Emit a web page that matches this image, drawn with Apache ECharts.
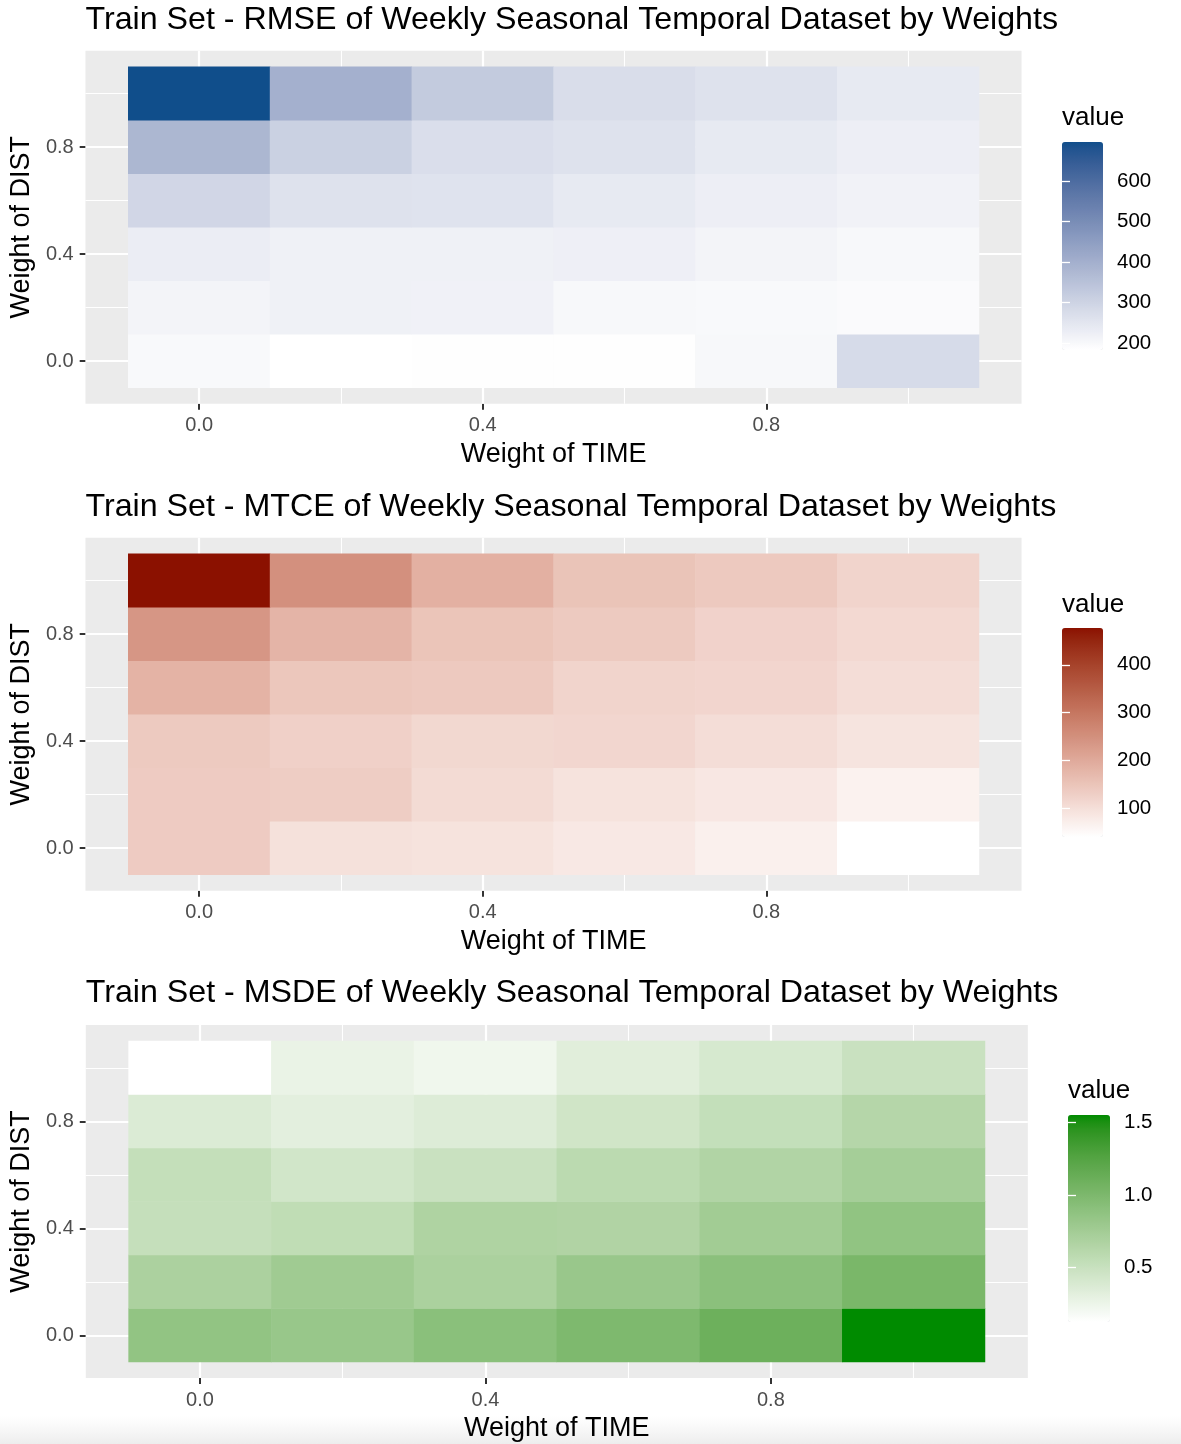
<!DOCTYPE html>
<html>
<head>
<meta charset="utf-8">
<style>
  html, body { margin: 0; padding: 0; background: #ffffff; }
  #chart { width: 1181px; height: 1444px; }
</style>
<script src="https://cdn.jsdelivr.net/npm/echarts@6/dist/echarts.min.js"></script>
</head>
<body>
<div id="chart"></div>
<script>
// Weight grid shared by all three heatmaps
const timeWeights = ['0.0', '0.2', '0.4', '0.6', '0.8', '1.0'];
const distWeights = ['0.0', '0.2', '0.4', '0.6', '0.8', '1.0'];

// Rows: DIST weight 0.0 -> 1.0 ; columns: TIME weight 0.0 -> 1.0
const rmseValues = [
  [200, 183, 186, 186, 202, 279],
  [212, 220, 218, 202, 199, 196],
  [231, 220, 220, 223, 212, 202],
  [292, 260, 258, 239, 226, 215],
  [380, 308, 271, 260, 239, 226],
  [696, 398, 324, 273, 260, 239]
];
const mtceValues = [
  [136, 97, 93, 82, 68, 40],
  [136, 132, 107, 93, 84, 65],
  [138, 126, 113, 115, 103, 90],
  [182, 145, 140, 120, 117, 103],
  [237, 180, 149, 138, 122, 111],
  [477, 249, 188, 151, 140, 120]
];
const msdeValues = [
  [0.86, 0.82, 0.91, 0.99, 1.10, 1.55],
  [0.69, 0.77, 0.695, 0.815, 0.905, 1.02],
  [0.52, 0.555, 0.67, 0.66, 0.755, 0.865],
  [0.525, 0.44, 0.49, 0.585, 0.655, 0.735],
  [0.365, 0.316, 0.357, 0.45, 0.53, 0.63],
  [0.125, 0.27, 0.227, 0.33, 0.40, 0.49]
];

// Colour-bar break labels
const rmseBreaks = [200, 300, 400, 500, 600];
const mtceBreaks = [100, 200, 300, 400];
const msdeBreaks = [0.5, 1.0, 1.5];

const titles = [
  'Train Set - RMSE of Weekly Seasonal Temporal Dataset by Weights',
  'Train Set - MTCE of Weekly Seasonal Temporal Dataset by Weights',
  'Train Set - MSDE of Weekly Seasonal Temporal Dataset by Weights'
];

// ---- CIELAB gradient (white -> high colour) ----
function toLin(c) { c /= 255; return c <= 0.04045 ? c / 12.92 : Math.pow((c + 0.055) / 1.055, 2.4); }
function toSrgb(v) {
  v = v <= 0.0031308 ? 12.92 * v : 1.055 * Math.pow(v, 1 / 2.4) - 0.055;
  return Math.round(Math.max(0, Math.min(1, v)) * 255);
}
function hexToLab(hex) {
  const r = toLin(parseInt(hex.slice(1, 3), 16));
  const g = toLin(parseInt(hex.slice(3, 5), 16));
  const b = toLin(parseInt(hex.slice(5, 7), 16));
  const X = (0.4124 * r + 0.3576 * g + 0.1805 * b) / 0.95047;
  const Y = 0.2126 * r + 0.7152 * g + 0.0722 * b;
  const Z = (0.0193 * r + 0.1192 * g + 0.9505 * b) / 1.08883;
  const f = t => t > 0.008856 ? Math.cbrt(t) : 7.787 * t + 16 / 116;
  const fx = f(X), fy = f(Y), fz = f(Z);
  return [116 * fy - 16, 500 * (fx - fy), 200 * (fy - fz)];
}
function labToHex(L, a, bb) {
  const fy = (L + 16) / 116, fx = fy + a / 500, fz = fy - bb / 200;
  const inv = t => t * t * t > 0.008856 ? t * t * t : (t - 16 / 116) / 7.787;
  const X = 0.95047 * inv(fx), Y = inv(fy), Z = 1.08883 * inv(fz);
  const r = 3.2406 * X - 1.5372 * Y - 0.4986 * Z;
  const g = -0.9689 * X + 1.8758 * Y + 0.0415 * Z;
  const b = 0.0557 * X - 0.2040 * Y + 1.0570 * Z;
  const h = v => toSrgb(v).toString(16).padStart(2, '0');
  return '#' + h(r) + h(g) + h(b);
}
function labRamp(low, high, n) {
  const a = hexToLab(low), b = hexToLab(high), out = [];
  for (let i = 0; i < n; i++) {
    const t = i / (n - 1);
    out.push(labToHex(a[0] + (b[0] - a[0]) * t, a[1] + (b[1] - a[1]) * t, a[2] + (b[2] - a[2]) * t));
  }
  return out;
}

const metrics = [
  { title: titles[0], values: rmseValues, high: '#104E8B', breaks: rmseBreaks, digits: 0 },
  { title: titles[1], values: mtceValues, high: '#8B1100', breaks: mtceBreaks, digits: 0 },
  { title: titles[2], values: msdeValues, high: '#008B00', breaks: msdeBreaks, digits: 1 }
];

// Panel geometry (pixels) for each of the three plots
const layouts = [
  { cellL: 128, cellR: 979, cellT: 66.75, cellB: 387.75, barL: 1062, barT: 142, barW: 41, barH: 208, titleTop: 4, legTitleTop: 105 },
  { cellL: 128, cellR: 979, cellT: 553.75, cellB: 874.75, barL: 1062, barT: 628, barW: 41, barH: 209, titleTop: 491, legTitleTop: 592 },
  { cellL: 128.6, cellR: 985, cellT: 1041, cellB: 1362, barL: 1068, barT: 1115, barW: 42, barH: 207, titleTop: 977, legTitleTop: 1078 }
];

const FONT = '"Liberation Sans", Arial, Helvetica, sans-serif';
const PANEL_BG = '#EBEBEB';

const option = {
  backgroundColor: '#FFFFFF',
  animation: false,
  title: [], grid: [], xAxis: [], yAxis: [], series: [], visualMap: [],
  graphic: [{
    type: 'rect', z: -10, silent: true,
    shape: { x: 0, y: 1416, width: 1181, height: 28 },
    style: {
      fill: new echarts.graphic.LinearGradient(0, 0, 0, 1, [
        { offset: 0, color: 'rgba(240,240,240,0)' },
        { offset: 1, color: '#EDEDED' }
      ])
    }
  }]
};

function addGrid(g) { option.grid.push(g); return option.grid.length - 1; }
function hiddenValueAxis(gridIndex) { return { type: 'value', show: false, gridIndex: gridIndex, min: 0, max: 1 }; }

metrics.forEach((m, k) => {
  const L = layouts[k];
  const pxX = (L.cellR - L.cellL) / 1.2;
  const pxY = (L.cellB - L.cellT) / 1.2;
  const panelL = L.cellL - 0.06 * pxX, panelR = L.cellR + 0.06 * pxX;
  const panelT = L.cellT - 0.06 * pxY, panelB = L.cellB + 0.06 * pxY;
  const xPix = v => L.cellL + (v + 0.1) * pxX;
  const yPix = v => L.cellB - (v + 0.1) * pxY;

  // titles
  option.title.push({
    text: m.title, left: panelL, top: L.titleTop, padding: 0,
    textStyle: { fontFamily: FONT, fontSize: 32.2, fontWeight: 'normal', color: '#000000' }
  });
  option.title.push({
    text: 'value', left: L.barL, top: L.legTitleTop, padding: 0,
    textStyle: { fontFamily: FONT, fontSize: 26, fontWeight: 'normal', color: '#000000' }
  });

  // grey panel
  const gPanel = addGrid({
    show: true, backgroundColor: PANEL_BG, borderWidth: 0, z: 0,
    left: panelL, top: panelT, width: panelR - panelL, height: panelB - panelT
  });
  option.xAxis.push(hiddenValueAxis(gPanel));
  option.yAxis.push(hiddenValueAxis(gPanel));

  // white grid lines: major (0, 0.4, 0.8) and minor (0.2, 0.6, 1.0)
  const lineSets = [
    { from: 0.0, width: 2.2 },
    { from: 0.2, width: 1.1 }
  ];
  lineSets.forEach(s => {
    // vertical lines across full panel height
    const gv = addGrid({ left: xPix(s.from), width: 0.8 * pxX, top: panelT, height: panelB - panelT });
    option.xAxis.push({
      type: 'value', gridIndex: gv, min: s.from, max: s.from + 0.8, interval: 0.4, z: 1,
      axisLine: { show: false }, axisTick: { show: false }, axisLabel: { show: false },
      splitLine: { show: true, lineStyle: { color: '#FFFFFF', width: s.width } }
    });
    option.yAxis.push(hiddenValueAxis(gv));
    // horizontal lines across full panel width
    const gh = addGrid({ left: panelL, width: panelR - panelL, top: yPix(s.from + 0.8), height: 0.8 * pxY });
    option.xAxis.push(hiddenValueAxis(gh));
    option.yAxis.push({
      type: 'value', gridIndex: gh, min: s.from, max: s.from + 0.8, interval: 0.4, z: 1,
      axisLine: { show: false }, axisTick: { show: false }, axisLabel: { show: false },
      splitLine: { show: true, lineStyle: { color: '#FFFFFF', width: s.width } }
    });
  });

  // heatmap cells
  const gHeat = addGrid({ left: L.cellL, width: L.cellR - L.cellL, top: L.cellT, height: L.cellB - L.cellT });
  const xi = option.xAxis.length;
  option.xAxis.push({
    type: 'category', gridIndex: gHeat, data: timeWeights, offset: panelB - L.cellB,
    axisLine: { show: false },
    axisTick: { show: true, interval: 1, alignWithLabel: true, length: 6, lineStyle: { color: '#333333', width: 2 } },
    axisLabel: { interval: 1, margin: 12, fontFamily: FONT, fontSize: 20, color: '#4D4D4D' },
    splitLine: { show: false },
    name: 'Weight of TIME', nameLocation: 'middle', nameGap: 37,
    nameTextStyle: { fontFamily: FONT, fontSize: 27, color: '#000000' }
  });
  const yi = option.yAxis.length;
  option.yAxis.push({
    type: 'category', gridIndex: gHeat, data: distWeights, offset: L.cellL - panelL,
    axisLine: { show: false },
    axisTick: { show: true, interval: 1, alignWithLabel: true, length: 6, lineStyle: { color: '#333333', width: 2 } },
    axisLabel: { interval: 1, margin: 12, fontFamily: FONT, fontSize: 20, color: '#4D4D4D' },
    splitLine: { show: false },
    name: 'Weight of DIST', nameLocation: 'middle', nameGap: 50,
    nameTextStyle: { fontFamily: FONT, fontSize: 27, color: '#000000' }
  });

  const data = [];
  let vmin = Infinity, vmax = -Infinity;
  m.values.forEach((row, r) => row.forEach((v, c) => {
    data.push([c, r, v]);
    vmin = Math.min(vmin, v); vmax = Math.max(vmax, v);
  }));
  const seriesIndex = option.series.length;
  option.series.push({
    type: 'heatmap', xAxisIndex: xi, yAxisIndex: yi, data: data, z: 2,
    itemStyle: { borderWidth: 0 }, emphasis: { disabled: true }, progressive: 0
  });

  option.visualMap.push({
    type: 'continuous', seriesIndex: seriesIndex, dimension: 2,
    min: vmin, max: vmax, calculable: false, hoverLink: false, padding: 0,
    orient: 'vertical', left: L.barL, top: L.barT, itemWidth: L.barW, itemHeight: L.barH,
    inRange: { color: labRamp('#FFFFFF', m.high, 32) },
    textStyle: { color: 'transparent' }
  });

  // colour-bar break ticks and labels
  const gBar = addGrid({ left: L.barL, width: L.barW, top: L.barT, height: L.barH });
  option.xAxis.push(hiddenValueAxis(gBar));
  const fmt = v => Number(v).toFixed(m.digits);
  option.yAxis.push({
    type: 'value', gridIndex: gBar, position: 'right', min: vmin, max: vmax, z: 6,
    axisLine: { show: false }, splitLine: { show: false },
    axisTick: { show: true, inside: true, length: 8, customValues: m.breaks, lineStyle: { color: '#FFFFFF', width: 1.3 } },
    axisLabel: { show: true, margin: 14, customValues: m.breaks, formatter: fmt, fontFamily: FONT, fontSize: 20.5, color: '#000000' }
  });
  option.yAxis.push({
    type: 'value', gridIndex: gBar, position: 'left', min: vmin, max: vmax, z: 6,
    axisLine: { show: false }, splitLine: { show: false }, axisLabel: { show: false },
    axisTick: { show: true, inside: true, length: 8, customValues: m.breaks, lineStyle: { color: '#FFFFFF', width: 1.3 } }
  });
});

const chart = echarts.init(document.getElementById('chart'), null, { renderer: 'canvas' });
chart.setOption(option);
</script>
</body>
</html>
